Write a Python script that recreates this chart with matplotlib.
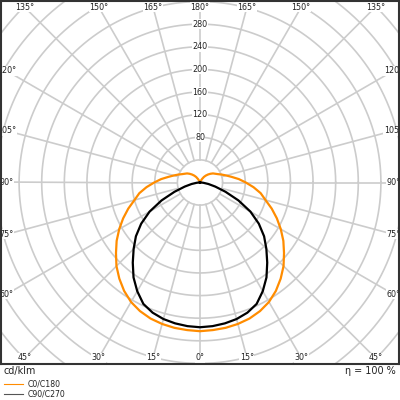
import numpy as np
import matplotlib
matplotlib.use("Agg")
import matplotlib.pyplot as plt
from matplotlib.lines import Line2D

# luminous intensity in cd/klm, gamma angle 0 = straight down
gamma = [0, 5, 10, 15, 20, 25, 30, 35, 40, 45, 50, 55, 60, 65, 70, 75, 80, 85, 90,
         95, 100, 105, 110, 115, 120, 125, 130, 135, 140, 145, 150, 155, 160, 165, 170, 175, 180]
c0_c180 = [263, 262, 261, 259, 256, 251, 244, 234, 222, 209, 194, 180, 165, 150, 135, 120, 109, 95, 81,
           69, 57, 48, 41, 35, 31, 28, 24, 20, 16, 12, 7, 3, 1, 0, 0, 0, 0]
c90_c270 = [256, 255, 253, 250, 245, 237, 222, 205, 185, 166, 148, 127, 103, 75, 48, 28, 15, 6, 2,
            0, 0, 0, 0, 0, 0, 0, 0, 0, 0, 0, 0, 0, 0, 0, 0, 0, 0]
ring_values = [40, 80, 120, 160, 200, 240, 280, 320, 360, 400, 440, 480]
ring_labels = [80, 120, 160, 200, 240, 280]
angle_ticks = [0, 15, 30, 45, 60, 75, 90, 105, 120, 135, 150, 165, 180]

ORANGE = "#ff8c00"
GRID = "#cccccc"
TEXT = "#222222"


def polar_xy(g, r):
    g = np.radians(np.asarray(g, dtype=float))
    r = np.asarray(r, dtype=float)
    return r * np.sin(g), -r * np.cos(g)


def main():
    fig = plt.figure(figsize=(4, 4), dpi=100)
    ax = fig.add_axes([1 / 400, 36 / 400, 398 / 400, 363 / 400])
    ax.set_xlim(-352, 352)
    ax.set_ylim(-321, 321)
    ax.set_xticks([])
    ax.set_yticks([])
    for sp in ax.spines.values():
        sp.set_color("#333333")
        sp.set_linewidth(1.5)

    # grid rings
    t = np.linspace(0, 2 * np.pi, 400)
    for rv in ring_values:
        ax.plot(rv * np.cos(t), rv * np.sin(t), color=GRID, lw=1.2, zorder=1)
    # radial lines from the inner ring outwards
    for a in range(0, 360, 15):
        x, y = polar_xy([a, a], [ring_values[0], 600])
        ax.plot(x, y, color=GRID, lw=1.2, zorder=1)

    # curves (mirrored to both sides)
    g_full = [-g for g in gamma[::-1]] + gamma[1:]
    for vals, col in [(c0_c180, ORANGE), (c90_c270, "black")]:
        v_full = vals[::-1] + vals[1:]
        x, y = polar_xy(g_full, v_full)
        ax.plot(x, y, color=col, lw=1.6, zorder=3, solid_joinstyle="round")

    # ring labels
    for rv in ring_labels:
        ax.text(0, rv, str(rv), ha="center", va="center", fontsize=5.8, color=TEXT, zorder=2,
                bbox=dict(facecolor="white", edgecolor="none", pad=0.3))

    # angle labels along the frame
    hx, hy = 342, 310
    for a in angle_ticks:
        for s in ([1, -1] if a not in (0, 180) else [1]):
            g = np.radians(a)
            dx, dy = s * np.sin(g), -np.cos(g)
            k = min(hx / abs(dx) if abs(dx) > 1e-9 else 1e9, hy / abs(dy) if abs(dy) > 1e-9 else 1e9)
            ax.text(k * dx, k * dy, "%d°" % a, ha="center", va="center", fontsize=5.8, color=TEXT,
                    zorder=2, bbox=dict(facecolor="white", edgecolor="none", pad=0.3))

    fig.text(4 / 400, 1 - 371 / 400, "cd/klm", ha="left", va="center", fontsize=6.9, color=TEXT)
    fig.text(396 / 400, 1 - 371 / 400, "η = 100 %", ha="right", va="center", fontsize=6.9, color=TEXT)

    handles = [Line2D([], [], color=ORANGE, lw=0.8), Line2D([], [], color="#555555", lw=0.8)]
    fig.legend(handles, ["C0/C180", "C90/C270"], loc="upper left", bbox_to_anchor=(0.01, 0.051),
               frameon=False, fontsize=5.6, borderpad=0, borderaxespad=0, labelspacing=0.12,
               handlelength=2.4, handletextpad=0.6, labelcolor=TEXT)

    fig.savefig("out.png", dpi=100)


if __name__ == "__main__":
    main()
